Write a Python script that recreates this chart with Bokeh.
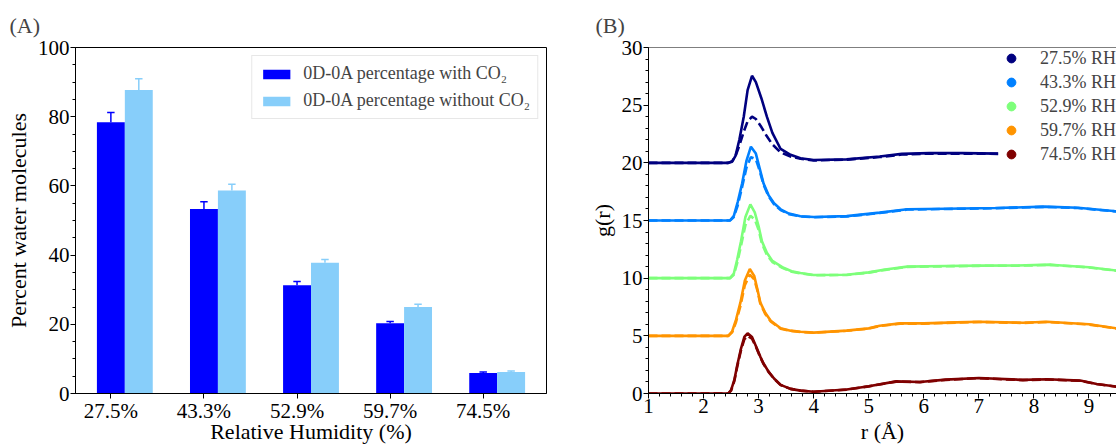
from bokeh.plotting import figure
from bokeh.layouts import row
from bokeh.models import (FixedTicker, SingleIntervalTicker, Span, Legend, LegendItem,
                          ColumnDataSource, Range1d)
from bokeh.embed import file_html
from bokeh.resources import INLINE

# ---------------- Panel A data ----------------
rh_labels = ["27.5%", "43.3%", "52.9%", "59.7%", "74.5%"]
with_co2 = [78.4, 53.3, 31.3, 20.3, 5.9]
with_co2_err = [2.8, 2.1, 1.1, 0.5, 0.3]
without_co2 = [87.7, 58.7, 37.8, 25.0, 6.2]
without_co2_err = [3.3, 1.8, 0.9, 0.8, 0.3]

# ---------------- Panel B data ----------------
rh_names = ["27.5% RH", "43.3% RH", "52.9% RH", "59.7% RH", "74.5% RH"]
colors = ["#00007f", "#0080ff", "#7dff7a", "#ff9400", "#7f0000"]

r_275 = [1.0, 2.45, 2.52, 2.58, 2.65, 2.73, 2.80, 2.88, 2.95, 3.05, 3.15, 3.25, 3.40, 3.58, 3.76, 4.0, 4.6, 5.2, 5.6, 6.1, 6.7, 7.35]
g_275_solid = [20.0, 20.0, 20.1, 20.6, 22.0, 24.0, 26.3, 27.55, 27.0, 25.6, 24.0, 22.6, 21.2, 20.7, 20.4, 20.25, 20.3, 20.55, 20.78, 20.84, 20.84, 20.8]
g_275_dash = [20.0, 20.0, 20.15, 20.6, 21.5, 22.7, 23.6, 24.0, 23.8, 23.1, 22.3, 21.6, 20.9, 20.55, 20.35, 20.2, 20.28, 20.5, 20.72, 20.8, 20.8, 20.78]

r_433 = [1.0, 2.48, 2.55, 2.62, 2.70, 2.78, 2.86, 2.95, 3.02, 3.09, 3.18, 3.28, 3.40, 3.55, 3.76, 4.0, 4.6, 5.2, 5.7, 6.4, 7.3, 8.2, 8.8, 9.5]
g_433_solid = [15.0, 15.0, 15.4, 16.6, 18.2, 20.2, 21.4, 20.8, 19.5, 18.2, 17.2, 16.5, 15.97, 15.6, 15.37, 15.3, 15.38, 15.68, 15.97, 16.02, 16.08, 16.2, 16.1, 15.8]
g_433_dash = [15.0, 15.0, 15.3, 16.3, 17.9, 19.6, 20.5, 20.3, 19.3, 18.1, 17.1, 16.4, 15.9, 15.55, 15.35, 15.28, 15.35, 15.65, 15.95, 16.0, 16.06, 16.18, 16.08, 15.78]

r_529 = [1.0, 2.48, 2.55, 2.61, 2.68, 2.76, 2.85, 2.93, 3.00, 3.06, 3.15, 3.25, 3.43, 3.60, 3.76, 4.0, 4.6, 5.0, 5.3, 5.7, 6.4, 7.0, 7.7, 8.3, 9.0, 9.5]
g_529_solid = [10.0, 10.0, 10.4, 11.6, 13.2, 15.3, 16.4, 15.7, 14.5, 13.2, 12.2, 11.5, 10.95, 10.6, 10.45, 10.27, 10.3, 10.5, 10.75, 11.0, 11.05, 11.09, 11.1, 11.17, 10.95, 10.66]
g_529_dash = [10.0, 10.0, 10.3, 11.3, 12.8, 14.6, 15.4, 15.1, 14.2, 13.0, 12.0, 11.4, 10.9, 10.55, 10.42, 10.25, 10.28, 10.48, 10.72, 10.98, 11.03, 11.07, 11.08, 11.15, 10.93, 10.64]

r_597 = [1.0, 2.45, 2.52, 2.59, 2.67, 2.75, 2.84, 2.92, 2.98, 3.03, 3.12, 3.22, 3.40, 3.58, 3.76, 4.0, 4.6, 5.0, 5.2, 5.57, 6.0, 6.6, 7.0, 7.8, 8.24, 9.0, 9.5]
g_597_solid = [5.0, 5.0, 5.4, 6.4, 7.9, 9.8, 10.8, 10.2, 9.0, 7.9, 7.0, 6.3, 5.65, 5.45, 5.35, 5.28, 5.45, 5.65, 5.88, 6.08, 6.08, 6.17, 6.22, 6.14, 6.22, 6.0, 5.65]
g_597_dash = [5.0, 5.0, 5.3, 6.2, 7.6, 9.4, 10.3, 9.9, 8.9, 7.8, 6.9, 6.25, 5.62, 5.43, 5.33, 5.27, 5.44, 5.63, 5.86, 6.06, 6.06, 6.15, 6.2, 6.12, 6.2, 5.98, 5.63]

r_745 = [1.0, 2.45, 2.50, 2.56, 2.61, 2.68, 2.74, 2.80, 2.88, 2.96, 3.03, 3.09, 3.18, 3.28, 3.40, 3.58, 3.76, 4.0, 4.6, 5.0, 5.5, 5.93, 6.4, 7.0, 7.8, 8.24, 8.84, 9.14, 9.5]
g_745_solid = [0.0, 0.0, 0.3, 1.2, 2.4, 3.9, 4.9, 5.22, 4.9, 4.0, 3.2, 2.6, 1.9, 1.3, 0.75, 0.4, 0.25, 0.15, 0.35, 0.63, 1.05, 1.0, 1.2, 1.35, 1.18, 1.24, 1.12, 0.83, 0.6]
g_745_dash = [0.0, 0.0, 0.25, 1.1, 2.3, 3.75, 4.7, 5.0, 4.75, 3.95, 3.15, 2.55, 1.88, 1.28, 0.74, 0.4, 0.25, 0.15, 0.34, 0.62, 1.03, 0.99, 1.18, 1.33, 1.16, 1.22, 1.1, 0.82, 0.58]

FONT = "Liberation Serif"
TICK_SIZE = "21px"
LABEL_SIZE = "22px"


def style_axis(ax, label, label_standoff, tick_standoff):
    ax.axis_line_color = "black"
    ax.axis_line_width = 1
    ax.major_tick_line_color = "black"
    ax.minor_tick_line_color = "black"
    ax.major_tick_out = 5
    ax.major_tick_in = 0
    ax.minor_tick_out = 3
    ax.minor_tick_in = 0
    ax.major_label_text_font = FONT
    ax.major_label_text_font_size = TICK_SIZE
    ax.major_label_text_color = "black"
    ax.major_label_standoff = tick_standoff
    ax.axis_label = label
    ax.axis_label_text_font = FONT
    ax.axis_label_text_font_size = LABEL_SIZE
    ax.axis_label_text_font_style = "normal"
    ax.axis_label_text_color = "black"
    ax.axis_label_standoff = label_standoff


def style_title(p, text, offset):
    p.title.text = text
    p.title.text_font = FONT
    p.title.text_font_size = "22px"
    p.title.text_font_style = "normal"
    p.title.align = "left"
    p.title.offset = offset
    p.title.standoff = 19


# ---------------- Panel A ----------------
pA = figure(width=570, height=446, x_range=Range1d(-0.38, 4.68), y_range=Range1d(0, 100),
            output_backend="svg", toolbar_location=None,
            min_border_left=75, min_border_right=24, min_border_top=47, min_border_bottom=51)
pA.grid.grid_line_color = None
pA.outline_line_color = "black"
pA.outline_line_width = 1

xs = list(range(len(rh_labels)))
xs2 = [x + 0.3 for x in xs]
srcA1 = ColumnDataSource(dict(x=xs, top=with_co2,
                              etop=[v + e for v, e in zip(with_co2, with_co2_err)]))
srcA2 = ColumnDataSource(dict(x=xs2, top=without_co2,
                              etop=[v + e for v, e in zip(without_co2, without_co2_err)]))

b1 = pA.vbar(x="x", top="top", width=0.3, source=srcA1, fill_color="#0000ff", line_color=None)
b2 = pA.vbar(x="x", top="top", width=0.3, source=srcA2, fill_color="#87cefa", line_color=None)
for src, col in ((srcA1, "#0000ff"), (srcA2, "#87cefa")):
    pA.segment(x0="x", y0="top", x1="x", y1="etop", source=src, line_color=col, line_width=1.5)
    d = src.data
    pA.segment(x0=[x - 0.04 for x in d["x"]], y0=d["etop"], x1=[x + 0.04 for x in d["x"]],
               y1=d["etop"], line_color=col, line_width=1.5)

pA.xaxis.ticker = FixedTicker(ticks=xs)
pA.xaxis.major_label_overrides = {i: lab for i, lab in enumerate(rh_labels)}
pA.yaxis.ticker = SingleIntervalTicker(interval=20, num_minor_ticks=4)
style_axis(pA.xaxis[0], "Relative Humidity (%)", -7, 0)
style_axis(pA.yaxis[0], "Percent water molecules", 4, 1)

legA = Legend(items=[LegendItem(label="0D-0A percentage with CO\u2082", renderers=[b1]),
                     LegendItem(label="0D-0A percentage without CO\u2082", renderers=[b2])],
              location="top_right", margin=8, padding=7, spacing=6,
              glyph_width=34, glyph_height=12, label_standoff=10,
              label_text_font=FONT, label_text_font_size="18px",
              border_line_color="#d0d0d0", border_line_width=1,
              background_fill_color="white", background_fill_alpha=0.9)
pA.add_layout(legA)
style_title(pA, "(A)", -66)

# ---------------- Panel B ----------------
pB = figure(width=546, height=446, x_range=Range1d(1, 9.5), y_range=Range1d(0, 30),
            output_backend="svg", toolbar_location=None,
            min_border_left=78, min_border_right=0, min_border_top=47, min_border_bottom=51)
pB.grid.grid_line_color = None
pB.outline_line_color = None
pB.add_layout(Span(location=30, dimension="width", line_color="black", line_width=1))

series = [
    (r_275, g_275_solid, g_275_dash),
    (r_433, g_433_solid, g_433_dash),
    (r_529, g_529_solid, g_529_dash),
    (r_597, g_597_solid, g_597_dash),
    (r_745, g_745_solid, g_745_dash),
]
for (rr, gs, gd), col in zip(series, colors):
    pB.line(rr, gs, line_color=col, line_width=2.6)
    pB.line(rr, gd, line_color=col, line_width=2.6, line_dash="9 4")

items = []
for name, col in zip(rh_names, colors):
    rdr = pB.scatter(x=[float("nan")], y=[float("nan")], marker="circle", size=9,
                     fill_color=col, line_color=col)
    items.append(LegendItem(label=name, renderers=[rdr]))
legB = Legend(items=items, location="top_right", margin=0, padding=5, spacing=2,
              glyph_width=22, glyph_height=22, label_standoff=18,
              label_text_font=FONT, label_text_font_size="18px",
              border_line_color=None, background_fill_alpha=0)
pB.add_layout(legB)

pB.xaxis.ticker = SingleIntervalTicker(interval=1, num_minor_ticks=5)
pB.yaxis.ticker = SingleIntervalTicker(interval=5, num_minor_ticks=5)
style_axis(pB.xaxis[0], "r (\u00c5)", 3, 0)
style_axis(pB.yaxis[0], "g(r)", 4, 1)
style_title(pB, "(B)", -53)

layout = row(pA, pB, spacing=0)
open("out.html", "w").write(file_html(layout, INLINE))
